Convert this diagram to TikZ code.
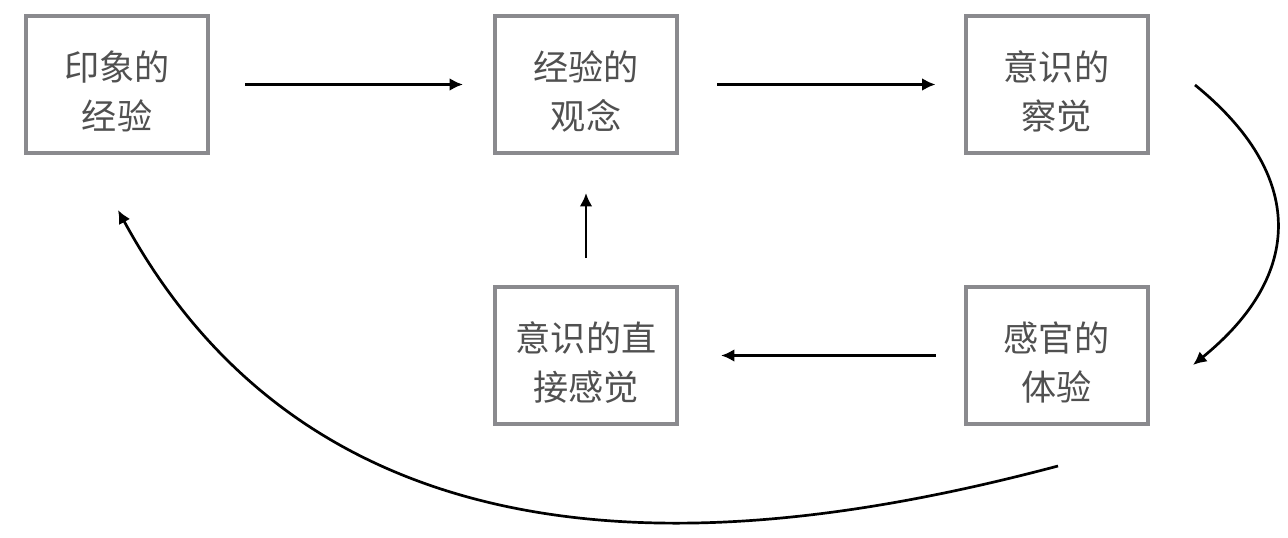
\documentclass[tikz,border=0pt]{standalone}
\usepackage{fontspec}
\setmainfont{Noto Sans CJK SC}
\usetikzlibrary{arrows.meta}
\definecolor{boxgray}{RGB}{138,138,142}
\definecolor{textgray}{RGB}{80,80,80}
\tikzset{
  stage/.style={draw=boxgray, line width=3.4pt, fill=white,
    minimum width=5.46cm, minimum height=4.11cm, align=center,
    text height=77pt, text depth=0pt,
    text=textgray, font=\fontsize{30pt}{42pt}\selectfont},
  flow/.style={line width=2.3pt, -{Latex[length=11.5pt,width=11pt]}}
}
\begin{document}
\begin{tikzpicture}[x=0.03cm,y=-0.03cm]
  \useasboundingbox (0,0) rectangle (1288,538);

  % stages
  \node[stage] (impression) at (117,84.5)    {印象的\\经验};
  \node[stage] (idea)       at (586,84.5)    {经验的\\观念};
  \node[stage] (aware)      at (1056.5,84.5) {意识的\\察觉};
  \node[stage] (sense)      at (1056.5,355.5){感官的\\体验};
  \node[stage] (direct)     at (586,355.5)   {意识的直\\接感觉};

  % straight arrows
  \draw[flow, shorten <=1.05cm, shorten >=0.9cm] (impression) -- (idea);
  \draw[flow, shorten <=1.14cm, shorten >=0.84cm] (idea) -- (aware);
  \draw[flow, shorten <=0.84cm, shorten >=1.26cm] (sense) -- (direct);
  \draw[flow, shorten <=0.81cm, shorten >=1.14cm] (direct) -- (idea);

  % curved arrows
  \coordinate (rtop) at (1195,85);
  \coordinate (rbot) at (1193,365);
  \draw[flow] (rtop) .. controls +(111,90) and +(111,-90) .. (rbot);

  \coordinate (bstart) at (1058,466);
  \coordinate (bend)   at (118,210);
  \draw[flow] (bstart) .. controls +(-298,79) and +(212,390) .. (bend);
\end{tikzpicture}
\end{document}
